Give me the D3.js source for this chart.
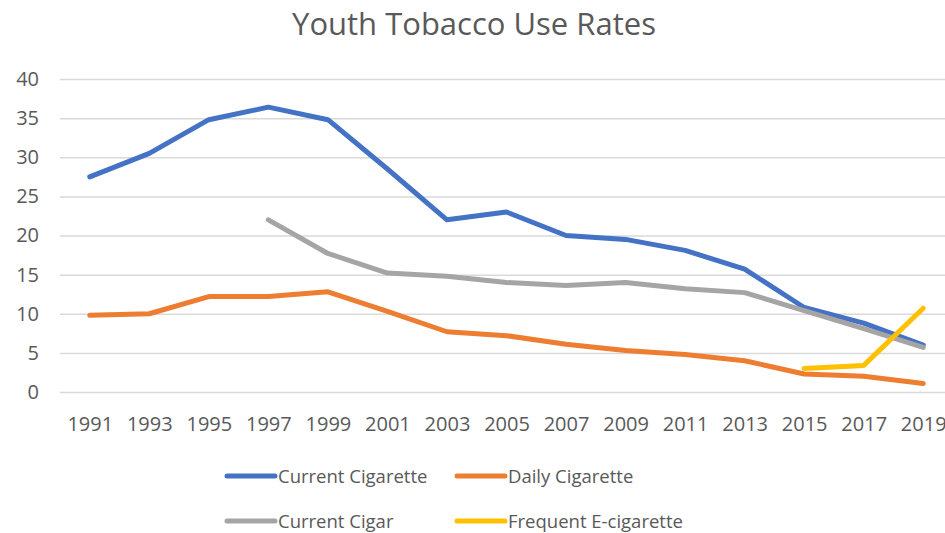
<!DOCTYPE html>
<html>
<head>
<meta charset="utf-8">
<script src="https://cdn.jsdelivr.net/npm/d3@7"></script>
<style>
  html, body { margin: 0; padding: 0; background: #fff; }
  svg { display: block; font-family: "Open Sans", "Liberation Sans", sans-serif; }
</style>
</head>
<body>
<svg id="chart" width="945" height="533"></svg>
<script>
// Survey years and yearly rates (%) for each tobacco product
const years = ["1991","1993","1995","1997","1999","2001","2003","2005","2007","2009","2011","2013","2015","2017","2019"];
const currentCigarette = [27.5, 30.5, 34.8, 36.4, 34.8, 28.5, 22.0, 23.0, 20.0, 19.5, 18.1, 15.7, 10.8, 8.8, 6.0];
const dailyCigarette   = [9.8, 10.0, 12.2, 12.2, 12.8, 10.3, 7.7, 7.2, 6.1, 5.3, 4.8, 4.0, 2.3, 2.0, 1.1];
const currentCigar     = [null, null, null, 22.0, 17.7, 15.2, 14.8, 14.0, 13.6, 14.0, 13.2, 12.7, 10.4, 8.1, 5.7];
const frequentEcig     = [null, null, null, null, null, null, null, null, null, null, null, null, 3.0, 3.4, 10.7];
const yTicks = [0, 5, 10, 15, 20, 25, 30, 35, 40];

const series = [
  { name: "Current Cigarette",   values: currentCigarette, color: "#4472C4" },
  { name: "Daily Cigarette",     values: dailyCigarette,   color: "#ED7D31" },
  { name: "Current Cigar",       values: currentCigar,     color: "#A5A5A5" },
  { name: "Frequent E-cigarette", values: frequentEcig,    color: "#FFC000" }
];

const svg = d3.select("#chart");
const textColor = "#595959";

const plot = { left: 60, right: 953, top: 79, bottom: 392 };

const x = d3.scalePoint().domain(years).range([plot.left, plot.right]).padding(0.5);
const y = d3.scaleLinear().domain([0, 40]).range([plot.bottom, plot.top]);

// Title
svg.append("text")
  .attr("x", 474).attr("y", 35)
  .attr("text-anchor", "middle")
  .attr("font-size", 31)
  .attr("fill", textColor)
  .text("Youth Tobacco Use Rates");

// Horizontal gridlines and value labels
const yAxis = d3.axisLeft(y).tickValues(yTicks).tickSize(-(plot.right - plot.left)).tickPadding(21);
const gy = svg.append("g").attr("transform", `translate(${plot.left},0)`).call(yAxis);
gy.select(".domain").remove();
gy.selectAll(".tick line").attr("stroke", "#D9D9D9").attr("stroke-width", 1.5);
gy.selectAll(".tick text")
  .attr("font-size", 20).attr("fill", textColor)
  .attr("font-family", "'Open Sans', sans-serif");

// Year labels
const xAxis = d3.axisBottom(x).tickSize(0).tickPadding(25);
const gx = svg.append("g").attr("transform", `translate(0,${plot.bottom})`).call(xAxis);
gx.select(".domain").remove();
gx.selectAll(".tick text")
  .attr("font-size", 20).attr("fill", textColor)
  .attr("font-family", "'Open Sans', sans-serif");

// Series lines
const line = d3.line()
  .defined(d => d.v !== null)
  .x(d => x(d.year))
  .y(d => y(d.v));

svg.append("g").selectAll("path")
  .data(series)
  .join("path")
  .attr("d", s => line(years.map((yr, i) => ({ year: yr, v: s.values[i] }))))
  .attr("fill", "none")
  .attr("stroke", s => s.color)
  .attr("stroke-width", 5)
  .attr("stroke-linecap", "round")
  .attr("stroke-linejoin", "round");

// Legend, two columns by two rows
const legendPos = [
  { x: 227, y: 476 }, { x: 457, y: 476 },
  { x: 227, y: 521 }, { x: 457, y: 521 }
];
const lg = svg.append("g").selectAll("g")
  .data(series)
  .join("g")
  .attr("transform", (d, i) => `translate(${legendPos[i].x},${legendPos[i].y})`);
lg.append("line")
  .attr("x1", 0).attr("x2", 48)
  .attr("stroke", d => d.color)
  .attr("stroke-width", 5)
  .attr("stroke-linecap", "round");
lg.append("text")
  .attr("x", 51).attr("y", 7)
  .attr("font-size", 18.5)
  .attr("fill", textColor)
  .text(d => d.name);
</script>
</body>
</html>
